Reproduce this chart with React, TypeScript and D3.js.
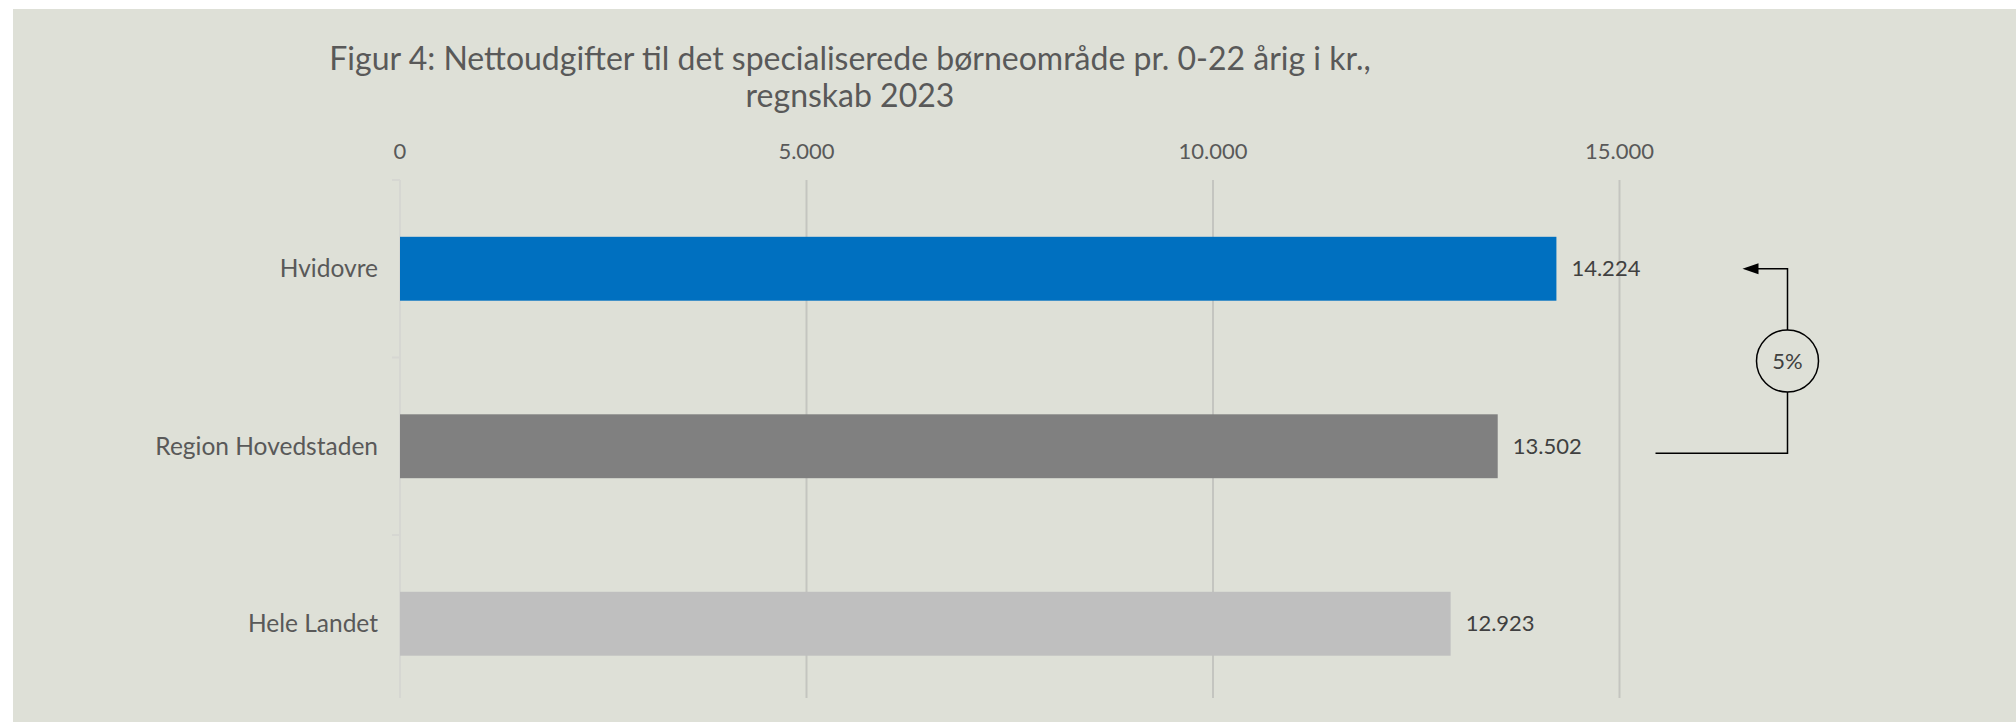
import * as d3 from "d3"

const categories = ["Hvidovre", "Region Hovedstaden", "Hele Landet"]
const values = [14224, 13502, 12923]
const barColors = ["#0070c0", "#808080", "#bfbfbf"]
const xTicks = [0, 5000, 10000, 15000]
const titleLines = [
  "Figur 4: Nettoudgifter til det specialiserede børneområde pr. 0-22 årig i kr.,",
  "regnskab 2023",
]

const WIDTH = 2016
const HEIGHT = 722
const FONT = "Lato, 'Open Sans', sans-serif"

// danish number format: 14.224
const dk = d3.formatLocale({
  decimal: ",",
  thousands: ".",
  grouping: [3],
  currency: ["", " kr."],
})
const fmt = dk.format(",d")
const pct = d3.format(".0%")

const App = () => {
  const x = d3.scaleLinear().domain([0, 15000]).range([400, 1619.5])
  const y = d3
    .scaleBand<string>()
    .domain(categories)
    .range([180, 712.5])
    .paddingInner(0.64)
    .paddingOuter(0.32)
  const bh = y.bandwidth()
  const cy = (c: string) => (y(c) ?? 0) + bh / 2
  const step = y.step()
  const gridTop = 180
  const gridBottom = 698

  // annotation: difference between first two bars
  const annX = x(15000) + 168
  const annLeft = x(15000) + 36
  const annTop = cy(categories[0])
  const annBottom = cy(categories[1]) + 7
  const annMid = (annTop + annBottom) / 2
  const tip = annX - 45

  return (
    <div style={{ position: "absolute", left: 0, top: 0 }}>
      <svg width={WIDTH} height={HEIGHT} style={{ display: "block" }}>
        <rect x={13} y={9} width={WIDTH - 13} height={HEIGHT - 9} fill="#dee0d7" />

        {titleLines.map((t, i) => (
          <text
            key={i}
            x={850}
            y={70 + i * 37}
            textAnchor="middle"
            fontFamily={FONT}
            fontSize={32}
            fill="#595959"
          >
            {t}
          </text>
        ))}

        {/* gridlines + tick labels */}
        {xTicks.map((t) => (
          <g key={t}>
            {t > 0 && (
              <line
                x1={x(t)}
                x2={x(t)}
                y1={gridTop}
                y2={gridBottom}
                stroke="#c4c5c0"
                strokeWidth={2}
              />
            )}
            <text
              x={x(t)}
              y={159}
              textAnchor="middle"
              fontFamily={FONT}
              fontSize={22}
              fill="#595959"
            >
              {fmt(t)}
            </text>
          </g>
        ))}

        {/* category axis */}
        <line x1={x(0)} x2={x(0)} y1={gridTop} y2={gridBottom} stroke="#d6d7d2" strokeWidth={2} />
        {[0, 1, 2].map((i) => (
          <line
            key={i}
            x1={x(0) - 8}
            x2={x(0)}
            y1={180 + i * step}
            y2={180 + i * step}
            stroke="#d6d7d2"
            strokeWidth={2}
          />
        ))}

        {categories.map((c, i) => (
          <g key={c}>
            <rect
              x={x(0)}
              y={y(c)}
              width={x(values[i]) - x(0)}
              height={bh}
              fill={barColors[i]}
            />
            <text
              x={x(0) - 22}
              y={cy(c)}
              dy="0.35em"
              textAnchor="end"
              fontFamily={FONT}
              fontSize={24.5}
              fill="#595959"
            >
              {c}
            </text>
            <text
              x={x(values[i]) + 15}
              y={cy(c)}
              dy="0.35em"
              fontFamily={FONT}
              fontSize={22}
              fill="#404040"
            >
              {fmt(values[i])}
            </text>
          </g>
        ))}

        {/* difference annotation */}
        <path
          d={`M${annLeft},${annBottom}H${annX}V${annTop}H${tip + 14}`}
          fill="none"
          stroke="#000"
          strokeWidth={1.5}
        />
        <path d={`M${tip},${annTop}L${tip + 16},${annTop - 5.5}L${tip + 16},${annTop + 5.5}Z`} fill="#000" />
        <circle cx={annX} cy={annMid} r={31} fill="#dee0d7" stroke="#000" strokeWidth={1.5} />
        <text
          x={annX}
          y={annMid}
          dy="0.35em"
          textAnchor="middle"
          fontFamily={FONT}
          fontSize={22}
          fill="#404040"
        >
          {pct(values[0] / values[1] - 1)}
        </text>
      </svg>
    </div>
  )
}

export default App
